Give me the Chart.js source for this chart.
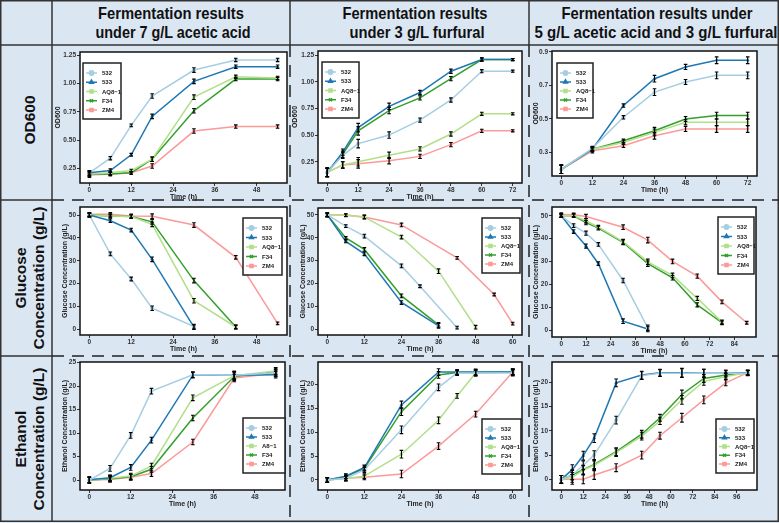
<!DOCTYPE html>
<html>
<head>
<meta charset="utf-8">
<script src="https://cdn.jsdelivr.net/npm/chart.js@4.4.0/dist/chart.umd.min.js"></script>
<style>
  body { margin: 0; background: #fff; }
  #fig { position: relative; width: 779px; height: 523px; background: #dbe6f3; overflow: hidden;
         font-family: "Liberation Sans", Arial, sans-serif; }
  #fig svg { position: absolute; left: 0; top: 0; }
  #fig canvas { position: absolute; }
</style>
</head>
<body>
<div id="fig">
  <svg width="779" height="523">
    <g stroke="#333" stroke-width="1.5" fill="none">
      <rect x="0.75" y="0.75" width="777.5" height="520.5"/>
      <line x1="52" y1="0" x2="52" y2="521"/>
      <line x1="0" y1="45" x2="779" y2="45"/>
      <line x1="290" y1="0" x2="290" y2="45"/>
      <line x1="529" y1="0" x2="529" y2="45"/>
      <line x1="0" y1="200" x2="52" y2="200"/>
      <line x1="0" y1="356" x2="52" y2="356"/>
    </g>
    <g stroke="#222" stroke-width="1.5" fill="none" stroke-dasharray="12 8">
      <line x1="290" y1="45" x2="290" y2="521"/>
      <line x1="529" y1="45" x2="529" y2="521"/>
      <line x1="52" y1="200" x2="779" y2="200"/>
      <line x1="52" y1="356" x2="779" y2="356"/>
    </g>
    <g font-family="Liberation Sans, Arial, sans-serif" font-weight="bold" font-size="16.5" fill="#111" text-anchor="middle" lengthAdjust="spacingAndGlyphs">
      <text x="171" y="19" textLength="146" lengthAdjust="spacingAndGlyphs">Fermentation results</text>
      <text x="173" y="38" textLength="155" lengthAdjust="spacingAndGlyphs">under 7 g/L acetic acid</text>
      <text x="415" y="19" textLength="145" lengthAdjust="spacingAndGlyphs">Fermentation results</text>
      <text x="417" y="38" textLength="135" lengthAdjust="spacingAndGlyphs">under 3 g/L furfural</text>
      <text x="657" y="19" textLength="191" lengthAdjust="spacingAndGlyphs">Fermentation results under</text>
      <text x="656" y="38" textLength="243" lengthAdjust="spacingAndGlyphs">5 g/L acetic acid and 3 g/L furfural</text>
    </g>
    <g font-family="Liberation Sans, Arial, sans-serif" font-weight="bold" font-size="15.5" fill="#111" text-anchor="middle">
      <text transform="translate(30,120) rotate(-90)" y="5">OD600</text>
      <text transform="translate(30,278) rotate(-90)" y="-4">Glucose</text>
      <text transform="translate(30,278) rotate(-90)" y="14">Concentration (g/L)</text>
      <text transform="translate(30,439) rotate(-90)" y="-4">Ethanol</text>
      <text transform="translate(30,439) rotate(-90)" y="14">Concentration (g/L)</text>
    </g>
  </svg>
</div>
<script>
// ---- data ----
const strainLabels = ["532", "533", "AQ8\u22121", "F34", "ZM4"];
const strainLabelsEth = ["532", "533", "A8\u22121", "F34", "ZM4"];

// OD600, 7 g/L acetic acid
const odAceticTime = [0, 6, 12, 18, 30, 42, 54];
const odAcetic532 = [0.21, 0.34, 0.63, 0.89, 1.12, 1.21, 1.21];
const odAcetic533 = [0.21, 0.23, 0.37, 0.71, 1.02, 1.15, 1.15];
const odAceticAQ8 = [0.20, 0.21, 0.23, 0.33, 0.88, 1.06, 1.05];
const odAceticF34 = [0.20, 0.20, 0.21, 0.33, 0.76, 1.04, 1.04];
const odAceticZM4 = [0.19, 0.20, 0.21, 0.27, 0.58, 0.62, 0.62];
const odAceticErr = [0.02, 0.015, 0.012, 0.02, 0.02, 0.015, 0.015];

// OD600, 3 g/L furfural
const odFurTime = [0, 6, 12, 24, 36, 48, 60, 72];
const odFur532 = [0.15, 0.31, 0.42, 0.50, 0.64, 0.83, 1.10, 1.10];
const odFur533 = [0.15, 0.34, 0.57, 0.77, 0.90, 1.10, 1.21, 1.21];
const odFurAQ8 = [0.15, 0.22, 0.25, 0.31, 0.37, 0.51, 0.70, 0.70];
const odFurF34 = [0.15, 0.32, 0.54, 0.73, 0.85, 1.03, 1.21, 1.21];
const odFurZM4 = [0.15, 0.22, 0.23, 0.26, 0.30, 0.41, 0.54, 0.54];
const odFurErr = [0.04, 0.03, 0.04, 0.03, 0.02, 0.02, 0.015, 0.01];

// OD600, acetic acid + furfural
const odMixTime = [0, 12, 24, 36, 48, 60, 72];
const odMix532 = [0.20, 0.325, 0.51, 0.66, 0.72, 0.76, 0.76];
const odMix533 = [0.20, 0.32, 0.58, 0.74, 0.81, 0.85, 0.85];
const odMixAQ8 = [0.20, 0.32, 0.36, 0.42, 0.48, 0.48, 0.48];
const odMixF34 = [0.20, 0.32, 0.37, 0.43, 0.50, 0.52, 0.52];
const odMixZM4 = [0.20, 0.31, 0.34, 0.40, 0.44, 0.44, 0.44];
const odMixErr = [0.025, 0.012, 0.01, 0.02, 0.015, 0.02, 0.02];

// Glucose, acetic acid
const gluAceticTime = [0, 6, 12, 18, 30, 42, 54];
const gluAcetic532 = [50, 33, 22, 9.2, 1.2, null, null];
const gluAcetic533 = [50, 47.5, 43.4, 30.6, 0.9, null, null];
const gluAceticAQ8 = [50, 49.6, 49.3, 45.9, 12.5, 1, null];
const gluAceticF34 = [50, 49.6, 49.3, 47, 21.3, 1, null];
const gluAceticZM4 = [50.3, 50.3, 49.6, 49.5, 45.6, 31.5, 2.6];
const gluAceticErr = [0.8, 0.8, 0.8, 1.0, 1.0, 0.8, 0.6];

// Glucose, furfural
const gluFurTime = [0, 6, 12, 24, 30, 36, 42, 48, 54, 60];
const gluFur532 = [50, 45.1, 40.7, 27.7, 18.8, null, 0.7, null, null, null];
const gluFur533 = [50, 38.4, 33, 11.7, null, 1.5, null, null, null, null];
const gluFurAQ8 = [50, 49.8, 49, 40.3, null, 25.4, null, 0.9, null, null];
const gluFurF34 = [50, 39.9, 34.9, 14.6, null, 1.9, null, null, null, null];
const gluFurZM4 = [50, 49.9, 49.1, 45.6, null, null, 31.2, null, 15.2, 2.5];
const gluFurErr = [0.8, 0.6, 0.8, 0.8, 0.6, 1.0, 0.6, 0.8, 0.6, 0.6];

// Glucose, acetic acid + furfural
const gluMixTime = [0, 6, 12, 18, 30, 42, 54, 66, 78, 90];
const gluMix532 = [50, 45.7, 42.4, 37.5, 21.8, 1.2, null, null, null, null];
const gluMix533 = [50, 43.1, 36.8, 29.1, 4.1, 0.7, null, null, null, null];
const gluMixAQ8 = [50, 50, 47.8, 45, 38.7, 29.9, 24, 14, 3.8, null];
const gluMixF34 = [50, 50, 47, 44.6, 38.4, 29.1, 23, 11.2, 3.4, null];
const gluMixZM4 = [50.5, 50.4, 49.7, null, 45, 39.4, 30.1, 23.7, 12.5, 3.4];
const gluMixErr = [0.8, 0.8, 0.9, 0.8, 1.0, 1.2, 1.0, 0.9, 0.8, 0.6];

// Ethanol, acetic acid
const ethAceticTime = [0, 6, 12, 18, 30, 42, 54];
const ethAcetic532 = [0, 2.5, 9.5, 18.9, 22.4, 22.3, 22.8];
const ethAcetic533 = [0.1, 0.5, 2.7, 8.5, 22.3, 22.3, 22.4];
const ethAceticAQ8 = [0, 0.4, 0.85, 3, 17.5, 22.2, 23.2];
const ethAceticF34 = [0, 0.3, 0.7, 2.3, 13.2, 22, 23.1];
const ethAceticZM4 = [0, 0.15, 0.6, 1.4, 8.1, 21.7, 22.7];
const ethAceticErr = [0.6, 0.6, 0.6, 0.6, 0.6, 0.8, 0.7];

// Ethanol, furfural
const ethFurTime = [0, 6, 12, 24, 36, 42, 48, 60];
const ethFur532 = [0, 0.35, 2.1, 10.5, 19.4, 22.4, 22.4, 22.4];
const ethFur533 = [0, 0.8, 2.6, 15.7, 22.6, 22.6, 22.6, 22.6];
const ethFurAQ8 = [0, 0.3, 0.8, 5.4, 12.5, 17.6, 22.4, 22.6];
const ethFurF34 = [0, 0.7, 2.4, 14.3, 22, 22.5, 22.5, 22.6];
const ethFurZM4 = [0, 0.35, 0.55, 1.25, 7.1, null, 13.8, 22.6];
const ethFurErr = [0.5, 0.5, 0.5, 0.8, 0.7, 0.5, 0.6, 0.6];

// Ethanol, acetic acid + furfural
const ethMixTime = [0, 6, 12, 18, 30, 44, 54, 66, 78, 90, 102];
const ethMix532 = [0, 0.9, 2.9, 5, 12.2, 21.4, 21.9, 21.9, 21.9, 21.9, 21.9];
const ethMix533 = [0, 2, 4.9, 8.5, 19.9, 21.5, 22, 22, 21.9, 21.9, 22];
const ethMixAQ8 = [0, 0.4, 1.9, 2.9, 5.5, 8.9, 12, 16.4, 20.2, 21.2, 22];
const ethMixF34 = [0, 0.9, 2, 3.1, 5.7, 9.3, 12.7, 17.5, 20.8, 21.5, 22];
const ethMixZM4 = [0, 0, 0, 0.9, 2.4, 5, 9, 12.7, 16.4, 19.9, 22];
const ethMixErr = [0.8, 1.0, 0.9, 0.9, 0.8, 0.8, 0.7, 0.9, 0.8, 0.6, 0.5];

// axis ticks
const xTicks48 = [0, 12, 24, 36, 48];
const xTicks60 = [0, 12, 24, 36, 48, 60];
const xTicks72 = [0, 12, 24, 36, 48, 60, 72];
const xTicks84 = [0, 12, 24, 36, 48, 60, 72, 84];
const xTicks96 = [0, 12, 24, 36, 48, 60, 72, 84, 96];
const odTicks = [0.25, 0.5, 0.75, 1.0, 1.25];
const odMixTicks = [0.3, 0.5, 0.7, 0.9];
const gluTicks = [0, 10, 20, 30, 40, 50];
const ethTicks25 = [0, 5, 10, 15, 20, 25];
const ethTicks20 = [0, 5, 10, 15, 20];

// ---- styles ----
const colors = ["#a6cee3", "#1f78b4", "#b2df8a", "#33a02c", "#fb9a99"];
const shapes = ["circle", "triangle", "rect", "crossRot", "rect"];
const FONT = "'Liberation Sans', Arial, sans-serif";

// draws white panel, error bars, box border and inset legend
const panelDecor = {
  id: "panelDecor",
  beforeDraw(chart) {
    const { ctx, chartArea: a } = chart;
    ctx.save();
    ctx.fillStyle = "#fff";
    ctx.fillRect(a.left, a.top, a.right - a.left, a.bottom - a.top);
    ctx.restore();
  },
  afterDatasetsDraw(chart) {
    const ctx = chart.ctx;
    const ys = chart.scales.y;
    ctx.save();
    ctx.strokeStyle = "#000";
    ctx.lineWidth = 1.1;
    chart.data.datasets.forEach((ds, i) => {
      const meta = chart.getDatasetMeta(i);
      ds.data.forEach((p, j) => {
        const x = meta.data[j].x;
        const y1 = ys.getPixelForValue(p.y - p.e);
        const y2 = ys.getPixelForValue(p.y + p.e);
        ctx.beginPath();
        ctx.moveTo(x, y1); ctx.lineTo(x, y2);
        ctx.moveTo(x - 1.8, y1); ctx.lineTo(x + 1.8, y1);
        ctx.moveTo(x - 1.8, y2); ctx.lineTo(x + 1.8, y2);
        ctx.stroke();
      });
    });
    ctx.restore();
  },
  afterDraw(chart, args, opts) {
    const { ctx, chartArea: a } = chart;
    ctx.save();
    ctx.strokeStyle = "#111";
    ctx.lineWidth = 1.5;
    ctx.strokeRect(a.left, a.top, a.right - a.left, a.bottom - a.top);

    const [dx, dy, w, h] = opts.box;
    const x0 = a.left + dx, y0 = a.top + dy;
    ctx.fillStyle = "#fff";
    ctx.fillRect(x0, y0, w, h);
    ctx.strokeStyle = "#222";
    ctx.lineWidth = 1.5;
    ctx.strokeRect(x0, y0, w, h);
    const step = (h - 19) / 4;
    chart.data.datasets.forEach((ds, i) => {
      const cy = y0 + 10 + i * step;
      ctx.strokeStyle = ds.borderColor;
      ctx.lineWidth = 1.5;
      ctx.beginPath();
      ctx.moveTo(x0 + 3, cy); ctx.lineTo(x0 + 14, cy);
      ctx.stroke();
      ctx.fillStyle = ds.borderColor;
      Chart.helpers.drawPoint(ctx, { pointStyle: ds.pointStyle, radius: 2.2, rotation: 0, borderWidth: 1 }, x0 + 8.5, cy);
      ctx.fillStyle = "#222";
      ctx.font = "bold 6px " + FONT;
      ctx.textBaseline = "middle";
      ctx.fillText(ds.label, x0 + 19, cy + 0.5);
    });
    ctx.restore();
  }
};

function buildDatasets(times, series, errs, labels) {
  return series.map((vals, i) => ({
    label: labels[i],
    data: times.map((t, j) => ({ x: t, y: vals[j], e: errs[j] })).filter(p => p.y !== null),
    borderColor: colors[i],
    backgroundColor: colors[i],
    borderWidth: 1.5,
    pointStyle: shapes[i],
    pointRadius: 1.5,
    pointBorderWidth: 1,
    tension: 0
  }));
}

function makePanel(g, s) {
  const X_H = 18, PAD_T = 6, PAD_R = 6;
  const cl = g.titleX - 4.2;
  const canvas = document.createElement("canvas");
  const left = Math.round(cl);
  canvas.width = g.pr + PAD_R - left;
  canvas.height = g.pb + X_H - (g.pt - PAD_T);
  canvas.style.left = left + "px";
  canvas.style.top = (g.pt - PAD_T) + "px";
  document.getElementById("fig").appendChild(canvas);
  const yW = g.pl - left;
  const tickFont = { family: FONT, size: 6.5, weight: "bold" };

  new Chart(canvas.getContext("2d"), {
    type: "line",
    data: { datasets: buildDatasets(s.time, s.series, s.err, s.labels) },
    options: {
      responsive: false,
      animation: false,
      devicePixelRatio: 1,
      layout: { padding: { top: PAD_T, right: PAD_R, left: 0, bottom: 0 } },
      plugins: { legend: { display: false }, tooltip: { enabled: false }, panelDecor: { box: g.legend } },
      scales: {
        x: {
          type: "linear", min: s.xMin, max: s.xMax,
          afterBuildTicks: sc => { sc.ticks = s.xTicks.map(v => ({ value: v })); },
          afterFit: sc => { sc.height = X_H; },
          ticks: { font: tickFont, color: "#333", padding: 0, maxRotation: 0, autoSkip: false },
          grid: { drawOnChartArea: false, tickLength: 3, color: "#333" },
          border: { display: false },
          title: { display: true, text: "Time (h)", color: "#222", padding: 0,
                   font: { family: FONT, size: 7, weight: "bold" } }
        },
        y: {
          min: s.yMin, max: s.yMax,
          afterBuildTicks: sc => { sc.ticks = s.yTicks.map(v => ({ value: v })); },
          afterFit: sc => { sc.width = yW; },
          ticks: { font: tickFont, color: "#333", padding: 1, callback: v => v.toFixed(s.yDec) },
          grid: { drawOnChartArea: false, tickLength: 3, color: "#333" },
          border: { display: false },
          title: { display: true, text: s.yTitle, color: "#222", padding: 0,
                   font: { family: FONT, size: 7, weight: "bold" } }
        }
      }
    },
    plugins: [panelDecor]
  });
}

// ---- panels ----
makePanel({ titleX: 58, pl: 80, pr: 287, pt: 52, pb: 183, legend: [3, 11, 38, 56] }, {
  time: odAceticTime, err: odAceticErr, labels: strainLabels,
  series: [odAcetic532, odAcetic533, odAceticAQ8, odAceticF34, odAceticZM4],
  xMin: -2.7, xMax: 56.7, xTicks: xTicks48,
  yMin: 0.12, yMax: 1.28, yTicks: odTicks, yDec: 2, yTitle: "OD600"
});
makePanel({ titleX: 295, pl: 318, pr: 522, pt: 51, pb: 183, legend: [4, 11, 37, 56] }, {
  time: odFurTime, err: odFurErr, labels: strainLabels,
  series: [odFur532, odFur533, odFurAQ8, odFurF34, odFurZM4],
  xMin: -3.6, xMax: 75.6, xTicks: xTicks72,
  yMin: 0.05, yMax: 1.29, yTicks: odTicks, yDec: 2, yTitle: "OD600"
});
makePanel({ titleX: 536, pl: 552, pr: 757, pt: 51, pb: 176, legend: [5, 12, 36, 55] }, {
  time: odMixTime, err: odMixErr, labels: strainLabels,
  series: [odMix532, odMix533, odMixAQ8, odMixF34, odMixZM4],
  xMin: -3.6, xMax: 75.6, xTicks: xTicks72,
  yMin: 0.16, yMax: 0.905, yTicks: odMixTicks, yDec: 1, yTitle: "OD600"
});

makePanel({ titleX: 65, pl: 80, pr: 287, pt: 207, pb: 335, legend: [163, 11, 39, 57] }, {
  time: gluAceticTime, err: gluAceticErr, labels: strainLabels,
  series: [gluAcetic532, gluAcetic533, gluAceticAQ8, gluAceticF34, gluAceticZM4],
  xMin: -2.7, xMax: 56.7, xTicks: xTicks48,
  yMin: -2.5, yMax: 53.5, yTicks: gluTicks, yDec: 0, yTitle: "Glucose Concentration (g/L)"
});
makePanel({ titleX: 303, pl: 318, pr: 522, pt: 208, pb: 335, legend: [164, 10, 38, 55] }, {
  time: gluFurTime, err: gluFurErr, labels: strainLabels,
  series: [gluFur532, gluFur533, gluFurAQ8, gluFurF34, gluFurZM4],
  xMin: -3, xMax: 63, xTicks: xTicks60,
  yMin: -2.5, yMax: 53, yTicks: gluTicks, yDec: 0, yTitle: "Glucose Concentration (g/L)"
});
makePanel({ titleX: 536, pl: 552, pr: 756, pt: 207, pb: 337, legend: [166, 10, 36, 57] }, {
  time: gluMixTime, err: gluMixErr, labels: strainLabels,
  series: [gluMix532, gluMix533, gluMixAQ8, gluMixF34, gluMixZM4],
  xMin: -4.5, xMax: 94.5, xTicks: xTicks84,
  yMin: -2.8, yMax: 53.8, yTicks: gluTicks, yDec: 0, yTitle: "Glucose Concentration (g/L)"
});

makePanel({ titleX: 65, pl: 80, pr: 285, pt: 362, pb: 490, legend: [163, 56, 42, 55] }, {
  time: ethAceticTime, err: ethAceticErr, labels: strainLabelsEth,
  series: [ethAcetic532, ethAcetic533, ethAceticAQ8, ethAceticF34, ethAceticZM4],
  xMin: -2.7, xMax: 56.7, xTicks: xTicks48,
  yMin: -2.1, yMax: 25.1, yTicks: ethTicks25, yDec: 0, yTitle: "Ethanol Concentration (g/L)"
});
makePanel({ titleX: 303, pl: 318, pr: 522, pt: 362, pb: 490, legend: [164, 57, 39, 55] }, {
  time: ethFurTime, err: ethFurErr, labels: strainLabels,
  series: [ethFur532, ethFur533, ethFurAQ8, ethFurF34, ethFurZM4],
  xMin: -3, xMax: 63, xTicks: xTicks60,
  yMin: -2.1, yMax: 24.7, yTicks: ethTicks20, yDec: 0, yTitle: "Ethanol Concentration (g/L)"
});
makePanel({ titleX: 536, pl: 552, pr: 757, pt: 362, pb: 490, legend: [164, 57, 38, 54] }, {
  time: ethMixTime, err: ethMixErr, labels: strainLabels,
  series: [ethMix532, ethMix533, ethMixAQ8, ethMixF34, ethMixZM4],
  xMin: -5.1, xMax: 107.1, xTicks: xTicks96,
  yMin: -2.2, yMax: 24.2, yTicks: ethTicks20, yDec: 0, yTitle: "Ethanol Concentration (g/L)"
});
</script>
</body>
</html>
